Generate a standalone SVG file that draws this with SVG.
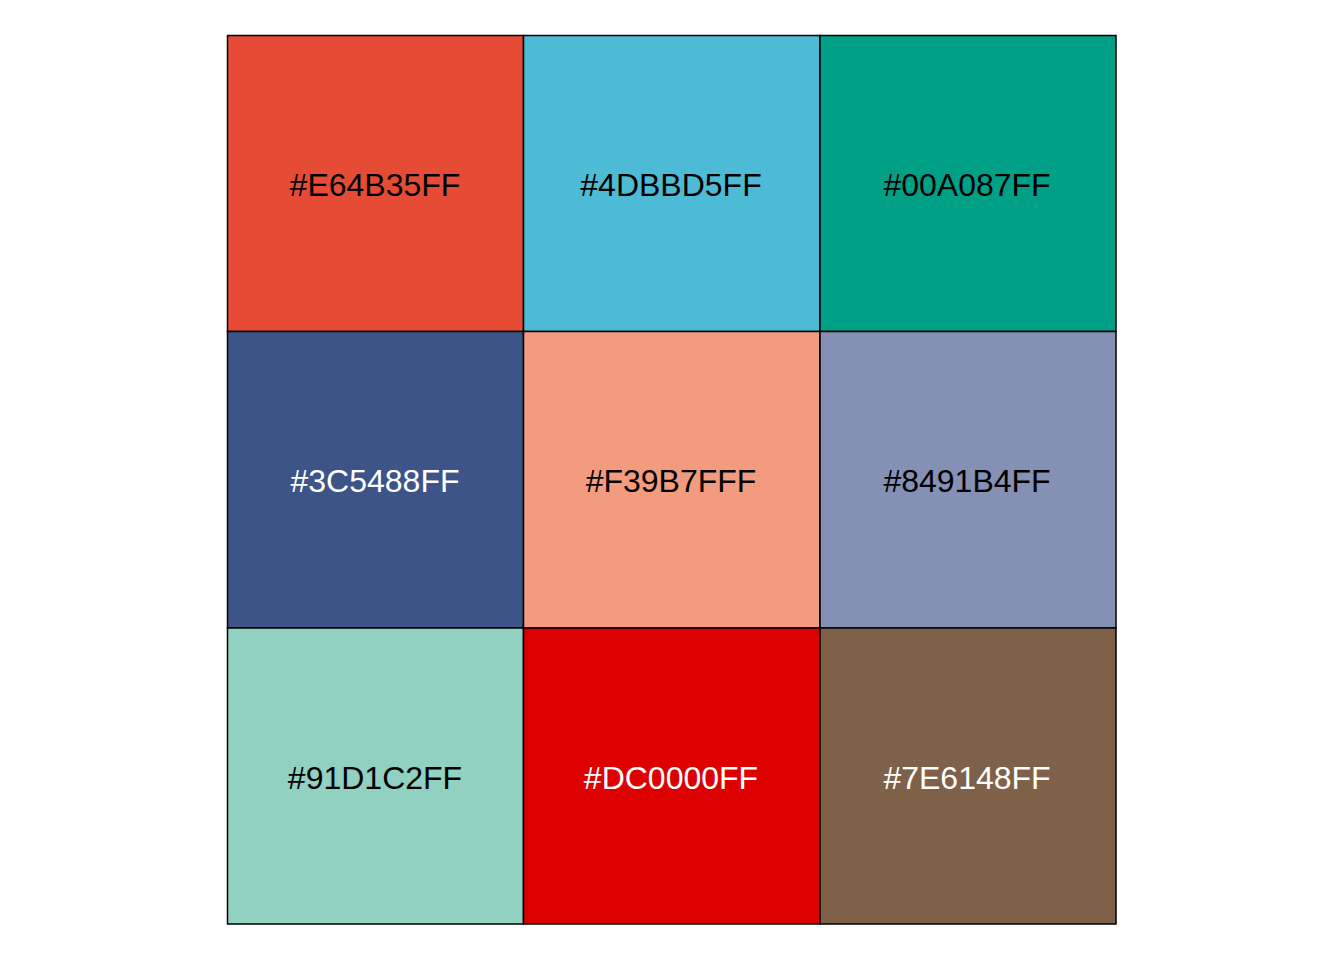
<svg xmlns="http://www.w3.org/2000/svg" width="1344" height="960" viewBox="0 0 1344 960">
<style>
.c{stroke:#000;stroke-width:1.5}
.t{font-family:"Liberation Sans",Arial,sans-serif;font-size:32px;text-anchor:middle}
.k{fill:#000}.w{fill:#fff}
</style>
<rect width="1344" height="960" fill="#fff"/>
<g id="cell1"><rect class="c" x="227.5" y="35.5" width="296" height="296" fill="#E64B35"/><text class="t k" x="375" y="196">#E64B35FF</text></g>
<g id="cell2"><rect class="c" x="523.5" y="35.5" width="296.5" height="296" fill="#4DBBD5"/><text class="t k" x="671" y="196">#4DBBD5FF</text></g>
<g id="cell3"><rect class="c" x="820" y="35.5" width="296" height="296" fill="#00A087"/><text class="t k" x="967" y="196">#00A087FF</text></g>
<g id="cell4"><rect class="c" x="227.5" y="331.5" width="296" height="296.5" fill="#3C5488"/><text class="t w" x="375" y="492">#3C5488FF</text></g>
<g id="cell5"><rect class="c" x="523.5" y="331.5" width="296.5" height="296.5" fill="#F39B7F"/><text class="t k" x="671" y="492">#F39B7FFF</text></g>
<g id="cell6"><rect class="c" x="820" y="331.5" width="296" height="296.5" fill="#8491B4"/><text class="t k" x="967" y="492">#8491B4FF</text></g>
<g id="cell7"><rect class="c" x="227.5" y="628" width="296" height="296" fill="#91D1C2"/><text class="t k" x="375" y="789">#91D1C2FF</text></g>
<g id="cell8"><rect class="c" x="523.5" y="628" width="296.5" height="296" fill="#DC0000"/><text class="t w" x="671" y="789">#DC0000FF</text></g>
<g id="cell9"><rect class="c" x="820" y="628" width="296" height="296" fill="#7E6148"/><text class="t w" x="967" y="789">#7E6148FF</text></g>
<g id="connectors"></g>
</svg>
